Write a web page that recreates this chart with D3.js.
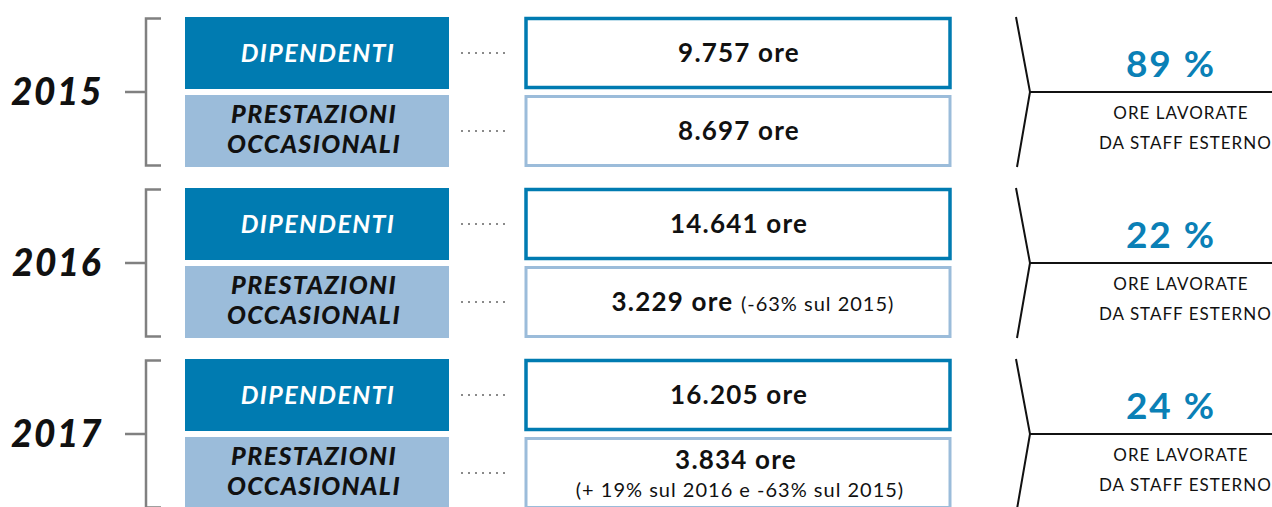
<!DOCTYPE html>
<html>
<head>
<meta charset="utf-8">
<script src="https://cdn.jsdelivr.net/npm/d3@7"></script>
<style>
  body { margin: 0; background: #fff; }
  svg { display: block; font-family: Lato, "Noto Sans", sans-serif; }
</style>
</head>
<body>
<div id="chart"></div>
<script>
var years = ["2015", "2016", "2017"];
var rows = ["DIPENDENTI", "PRESTAZIONI OCCASIONALI"];
var dipendenti = [9757, 14641, 16205];
var occasionali = [8697, 3229, 3834];
var notes = ["", "(-63% sul 2015)", "(+ 19% sul 2016 e -63% sul 2015)"];
var percents = [89, 22, 24];
var subLabel = ["ORE LAVORATE", "DA STAFF ESTERNO"];

var width = 1272, height = 507;
var darkBlue = "#007bb1", lightBlue = "#9bbcda", pctBlue = "#0a80b6";

var it = d3.formatLocale({decimal: ",", thousands: ".", grouping: [3], currency: ["€", ""]});
var fmt = it.format(",");

var svg = d3.select("#chart").append("svg")
    .attr("width", width)
    .attr("height", height);

// one band per year, two rows inside each
var y = d3.scaleBand().domain(years).range([17, 509]).paddingInner(21 / 171).paddingOuter(0);
var row = d3.scaleBand().domain(rows).range([0, y.bandwidth()]).paddingInner(6 / 78).paddingOuter(0);

var data = years.map(function(yr, i) {
  return {year: yr, dip: dipendenti[i], occ: occasionali[i], note: notes[i], pct: percents[i]};
});

var g = svg.selectAll("g.block")
    .data(data)
    .enter().append("g")
    .attr("class", "block")
    .attr("transform", function(d) { return "translate(0," + y(d.year) + ")"; });

var bh = y.bandwidth(), mid = bh / 2, rh = row.bandwidth();

// year label + bracket
g.append("text")
    .attr("x", 57).attr("y", mid + 13)
    .attr("text-anchor", "middle")
    .style("font-size", "37px").style("font-weight", 900).style("font-style", "italic")
    .style("letter-spacing", "1.5px")
    .attr("fill", "#111")
    .text(function(d) { return d.year; });

g.append("path")
    .attr("d", "M161,1.5 H146 V" + (bh - 1.5) + " H161 M125," + mid + " H146")
    .attr("fill", "none").attr("stroke", "#808080").attr("stroke-width", 2.5);

// category boxes
g.append("rect")
    .attr("x", 185).attr("y", row(rows[0])).attr("width", 264).attr("height", rh)
    .attr("fill", darkBlue);
g.append("rect")
    .attr("x", 185).attr("y", row(rows[1])).attr("width", 264).attr("height", rh)
    .attr("fill", lightBlue);

g.append("text")
    .attr("x", 318).attr("y", row(rows[0]) + rh / 2 + 9)
    .attr("text-anchor", "middle")
    .style("font-size", "25px").style("font-weight", 700).style("font-style", "italic")
    .style("letter-spacing", "1.4px")
    .attr("fill", "#fff")
    .text("DIPENDENTI");

var occ = g.append("text")
    .attr("text-anchor", "middle")
    .style("font-size", "25px").style("font-weight", 900).style("font-style", "italic")
    .style("letter-spacing", "1.4px")
    .attr("fill", "#111");
occ.append("tspan").attr("x", 314).attr("y", row(rows[1]) + 28).text("PRESTAZIONI");
occ.append("tspan").attr("x", 314).attr("y", row(rows[1]) + 58).text("OCCASIONALI");

// dotted leaders
g.selectAll("line.dot")
    .data(rows)
    .enter().append("line")
    .attr("class", "dot")
    .attr("x1", 461).attr("x2", 510)
    .attr("y1", function(r) { return row(r) + rh / 2; })
    .attr("y2", function(r) { return row(r) + rh / 2; })
    .attr("stroke", "#8a8a8a").attr("stroke-width", 2)
    .attr("stroke-dasharray", "2,5");

// value boxes
g.append("rect")
    .attr("x", 526).attr("y", row(rows[0]) + 1.5).attr("width", 424).attr("height", rh - 3)
    .attr("fill", "#fff").attr("stroke", darkBlue).attr("stroke-width", 3.5);
g.append("rect")
    .attr("x", 526).attr("y", row(rows[1]) + 1.5).attr("width", 424).attr("height", rh - 3)
    .attr("fill", "#fff").attr("stroke", lightBlue).attr("stroke-width", 3);

var bigStyle = function(s) {
  s.style("font-size", "26px").style("font-weight", 700).style("letter-spacing", "1.2px");
};

g.append("text")
    .attr("x", 739).attr("y", row(rows[0]) + rh / 2 + 9)
    .attr("text-anchor", "middle")
    .call(bigStyle)
    .attr("fill", "#111")
    .text(function(d) { return fmt(d.dip) + " ore"; });

g.each(function(d, i) {
  var sel = d3.select(this);
  var top = row(rows[1]);
  if (i === 1) {
    var t = sel.append("text")
        .attr("x", 753).attr("y", top + rh / 2 + 9)
        .attr("text-anchor", "middle").attr("fill", "#111");
    t.append("tspan").call(bigStyle).text(fmt(d.occ) + " ore ");
    t.append("tspan").style("font-size", "20px").style("font-weight", 400)
        .style("letter-spacing", "1px").text(d.note);
  } else if (i === 2) {
    sel.append("text")
        .attr("x", 736).attr("y", top + 32)
        .attr("text-anchor", "middle").attr("fill", "#111")
        .call(bigStyle)
        .text(fmt(d.occ) + " ore");
    sel.append("text")
        .attr("x", 740).attr("y", top + 60)
        .attr("text-anchor", "middle").attr("fill", "#111")
        .style("font-size", "20px").style("font-weight", 400).style("letter-spacing", "1px")
        .text(d.note);
  } else {
    sel.append("text")
        .attr("x", 739).attr("y", top + rh / 2 + 9)
        .attr("text-anchor", "middle").attr("fill", "#111")
        .call(bigStyle)
        .text(fmt(d.occ) + " ore");
  }
});

// right summary
g.append("path")
    .attr("d", "M1016,0 L1030," + mid + " L1017," + bh + " M1030," + mid + " H" + width)
    .attr("fill", "none").attr("stroke", "#111").attr("stroke-width", 2);

g.append("text")
    .attr("x", 1171).attr("y", mid - 15)
    .attr("text-anchor", "middle")
    .style("font-size", "37px").style("font-weight", 700).style("letter-spacing", "2px")
    .attr("fill", pctBlue)
    .text(function(d) { return d.pct + " %"; });

g.append("text")
    .attr("x", 1181).attr("y", mid + 27)
    .attr("text-anchor", "middle")
    .style("font-size", "17px").style("font-weight", 400).style("letter-spacing", "1px")
    .attr("fill", "#111")
    .text(subLabel[0]);
g.append("text")
    .attr("x", 1099).attr("y", mid + 57)
    .style("font-size", "17px").style("font-weight", 400).style("letter-spacing", "1px")
    .attr("fill", "#111")
    .text(subLabel[1]);
</script>
</body>
</html>
